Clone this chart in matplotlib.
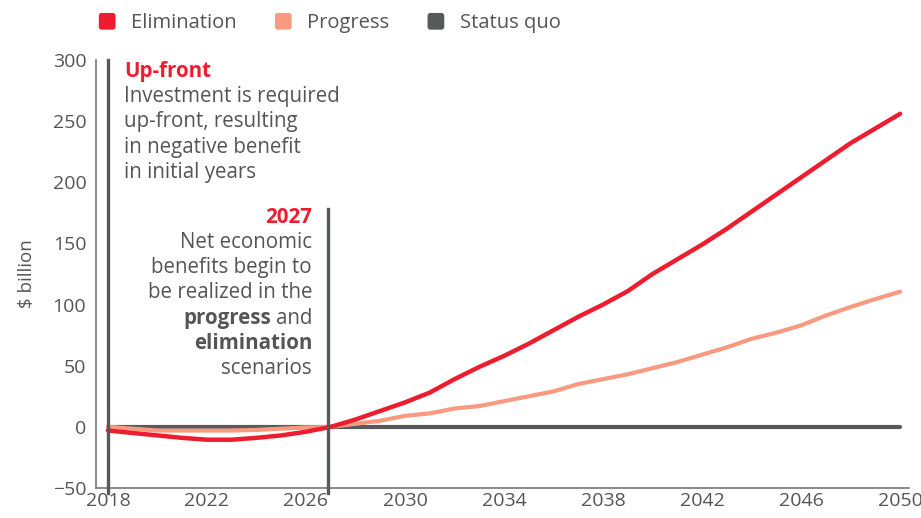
import matplotlib
matplotlib.use('Agg')
import matplotlib.pyplot as plt
from matplotlib.patches import FancyBboxPatch
from matplotlib.legend_handler import HandlerPatch
from matplotlib.patches import Patch

plt.rcParams['font.family'] = ['Open Sans', 'DejaVu Sans']

years = list(range(2018, 2051))
elimination = [-3, -5, -7, -9, -10.5, -10.5, -9, -7, -4, 0,
               6, 13, 20, 28, 39, 49, 58, 68, 79, 90,
               100, 111, 125, 137, 149, 162, 176, 190, 204, 218,
               232, 244, 256]
progress = [0, -1.5, -3, -3, -3, -3, -2.5, -1.5, -0.5, 0,
            2.5, 5, 9, 11, 15, 17, 21, 25, 29, 35,
            39, 43, 48, 53, 59, 65, 72, 77, 83, 91,
            98, 104.5, 110.5]
status_quo = [0] * len(years)

series_names = ['Elimination', 'Progress', 'Status quo']
colors = ['#ED1C2E', '#F89A80', '#58595B']
x_ticks = [2018, 2022, 2026, 2030, 2034, 2038, 2042, 2046, 2050]
y_ticks = [-50, 0, 50, 100, 150, 200, 250, 300]

grey = '#58595B'
text_grey = '#555555'

fig = plt.figure(figsize=(9.21, 5.18), dpi=100)
ax = fig.add_axes([96 / 921, 1 - 488 / 518, (909 - 96) / 921, (488 - 60) / 518])

ax.plot(years, status_quo, color=colors[2], lw=3.0, solid_capstyle='round', zorder=3)
ax.plot(years, progress, color=colors[1], lw=3.0, solid_capstyle='round', zorder=4)
ax.plot(years, elimination, color=colors[0], lw=3.2, solid_capstyle='round', zorder=5)

ax.set_xlim(2017.52, 2050.36)
ax.set_ylim(-50, 300)
ax.set_xticks(x_ticks)
ax.set_yticks(y_ticks)
ax.tick_params(length=0, labelsize=14, labelcolor=text_grey)
ax.tick_params(axis='y', pad=7)
ax.tick_params(axis='x', pad=3)
for s in ['top', 'right']:
    ax.spines[s].set_visible(False)
for s in ['left', 'bottom']:
    ax.spines[s].set_color('#777777')
    ax.spines[s].set_linewidth(1.2)

ax.set_ylabel('$ billion', fontsize=13.5, color=text_grey, labelpad=12)

# milestone markers
ax.plot([2018, 2018], [-54, 300], color=grey, lw=2.4, clip_on=False, zorder=6)
ax.plot([2026.9, 2026.9], [-54, 178], color=grey, lw=2.4, clip_on=False, zorder=6)

red = colors[0]
fs = 14.8
lh = 25.3 / (428 / 350)  # line height in data units

ax.text(2018.65, 291, 'Up-front', color=red, fontsize=fs, fontweight='bold', va='center')
for i, line in enumerate(['Investment is required', 'up-front, resulting',
                          'in negative benefit', 'in initial years']):
    ax.text(2018.65, 270 - i * lh, line, color=text_grey, fontsize=fs, va='center')

xr = 2026.25
ax.text(xr, 171.5, '2027', color=red, fontsize=fs, fontweight='bold', va='center', ha='right')
for i, line in enumerate(['Net economic', 'benefits begin to', 'be realized in the']):
    ax.text(xr, 151 - i * lh, line, color=text_grey, fontsize=fs, va='center', ha='right')
y_and = 151 - 3 * lh
t_and = ax.text(xr, y_and, 'and', color=text_grey, fontsize=fs, va='center', ha='right')
ax.text(xr, 151 - 4 * lh, 'elimination', color=text_grey, fontsize=fs, fontweight='bold',
        va='center', ha='right')
ax.text(xr, 151 - 5 * lh, 'scenarios', color=text_grey, fontsize=fs, va='center', ha='right')

fig.canvas.draw()
bb = t_and.get_window_extent(fig.canvas.get_renderer())
x_left = ax.transData.inverted().transform((bb.x0 - 5, 0))[0]
ax.text(x_left, y_and, 'progress', color=text_grey, fontsize=fs, fontweight='bold',
        va='center', ha='right')


class RoundSquare(HandlerPatch):
    def create_artists(self, legend, orig_handle, xdescent, ydescent, width, height,
                       fontsize, trans):
        s = min(width, height)
        p = FancyBboxPatch((-xdescent + (width - s) / 2, -ydescent + (height - s) / 2), s, s,
                           boxstyle='round,pad=0,rounding_size=2',
                           facecolor=orig_handle.get_facecolor(), edgecolor='none',
                           transform=trans)
        return [p]


handles = [Patch(facecolor=c, edgecolor=c, label=n) for c, n in zip(colors, series_names)]
fig.legend(handles=handles, loc='upper left', bbox_to_anchor=(80 / 921, 1.01), ncol=3,
           frameon=False, fontsize=14.5, labelcolor=text_grey, handlelength=0.9,
           handleheight=0.9, handletextpad=0.75, columnspacing=1.85,
           handler_map={Patch: RoundSquare()})

fig.savefig('out.png', dpi=100)
